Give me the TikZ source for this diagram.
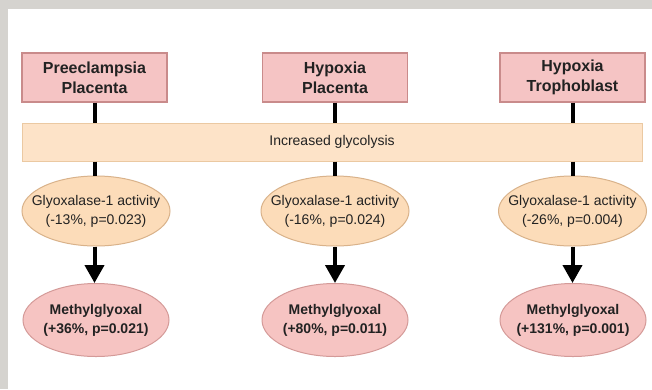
\documentclass[tikz,border=0pt]{standalone}
\usepackage{fontspec}
\setmainfont{Liberation Sans}
\usetikzlibrary{arrows.meta,shapes.geometric}
\definecolor{bggray}{HTML}{D5D3CF}
\definecolor{boxfill}{HTML}{F5C4C4}
\definecolor{boxline}{HTML}{C98B8B}
\definecolor{barfill}{HTML}{FDE3C8}
\definecolor{barline}{HTML}{EBC9A2}
\definecolor{glyfill}{HTML}{FCDCB9}
\definecolor{glyline}{HTML}{D9B28A}
\definecolor{metfill}{HTML}{F6C4C2}
\definecolor{metline}{HTML}{D49A98}
\definecolor{txt}{HTML}{222222}
\begin{document}
\begin{tikzpicture}[x=1pt,y=-1pt,
  topbox/.style={rectangle,draw=boxline,fill=boxfill,line width=1.2pt,
    minimum width=145pt,minimum height=49pt,inner sep=0pt,align=center,
    text=txt,font=\bfseries\fontsize{16}{20}\selectfont},
  barbox/.style={rectangle,draw=barline,fill=barfill,line width=1pt,
    minimum width=620pt,minimum height=38pt,inner sep=0pt,align=center,
    text=txt,font=\fontsize{14}{16}\selectfont},
  glybox/.style={ellipse,draw=glyline,fill=glyfill,line width=1pt,
    minimum width=148pt,minimum height=70pt,inner sep=0pt},
  glytext/.style={inner sep=0pt,align=center,text=txt,
    font=\fontsize{14}{19}\selectfont},
  metbox/.style={ellipse,draw=metline,fill=metfill,line width=1pt,
    minimum width=146pt,minimum height=73pt,inner sep=0pt},
  mettext/.style={inner sep=0pt,align=center,text=txt,
    font=\bfseries\fontsize{14}{19}\selectfont},
  link/.style={line width=4pt,black},
  arr/.style={line width=4pt,black,-{Triangle[length=18pt,width=19pt]}}
]
\fill[bggray] (0,0) rectangle (652,389);
\fill[white] (8,9) rectangle (652,389);
\useasboundingbox (0,0) rectangle (652,389);

\node[topbox] (b1) at (94.5,77.5) {Preeclampsia\\Placenta};
\node[topbox] (b2) at (335,77.5) {Hypoxia\\Placenta};
\node[topbox] (b3) at (572.5,77.5) {Hypoxia\\Trophoblast};

\node[barbox] (g) at (332,142) {Increased glycolysis};

\node[glybox] (e1) at (96,211) {};
\node[glybox] (e2) at (335,211) {};
\node[glybox] (e3) at (572.5,211) {};
\node[glytext] (e1t) at (e1) {Glyoxalase-1 activity\\(-13\%, p=0.023)};
\node[glytext] (e2t) at (e2) {Glyoxalase-1 activity\\(-16\%, p=0.024)};
\node[glytext] (e3t) at (e3) {Glyoxalase-1 activity\\(-26\%, p=0.004)};

\node[metbox] (m1) at (96,320) {};
\node[metbox] (m2) at (335,320) {};
\node[metbox] (m3) at (573,320) {};
\node[mettext] (m1t) at (m1) {Methylglyoxal\\(+36\%, p=0.021)};
\node[mettext] (m2t) at (m2) {Methylglyoxal\\(+80\%, p=0.011)};
\node[mettext] (m3t) at (m3) {Methylglyoxal\\(+131\%, p=0.001)};

\foreach \i in {1,2,3}{
  \draw[link] (b\i.south) -- (b\i.south |- g.north);
  \draw[link] (b\i.south |- g.south) -- (b\i.south |- e\i.north);
  \draw[arr] (b\i.south |- e\i.south) -- (b\i.south |- m\i.north);
}
\end{tikzpicture}
\end{document}
